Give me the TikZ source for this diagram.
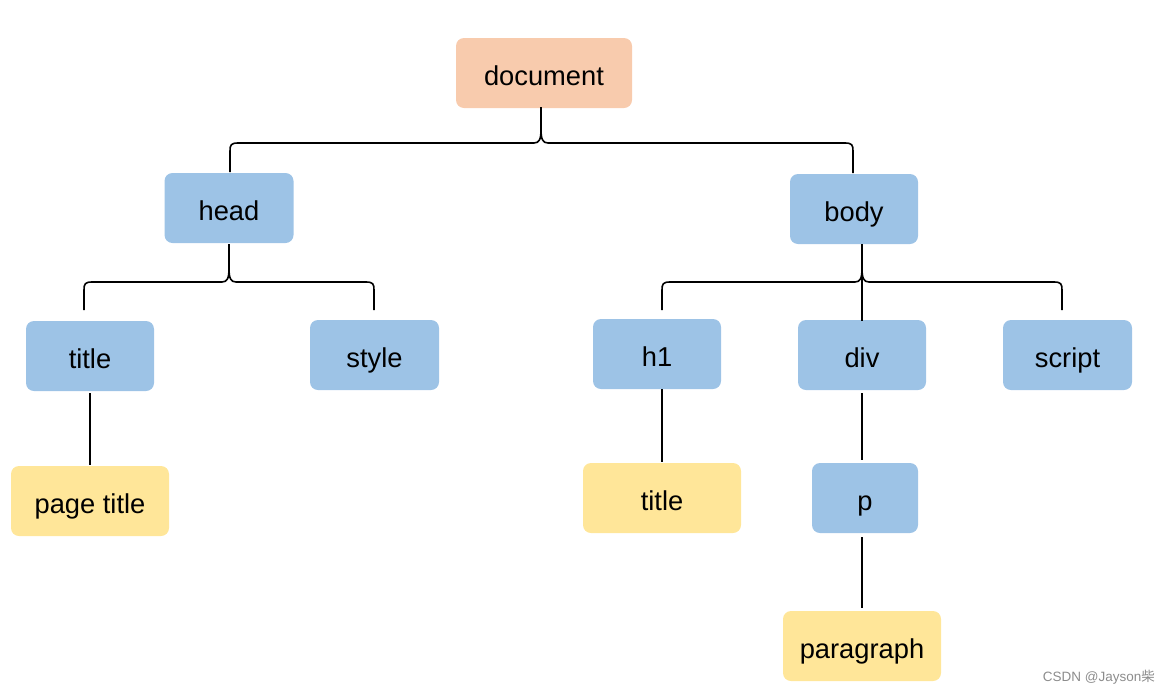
\documentclass[tikz,border=0pt]{standalone}
\usepackage{fontspec}
\setmainfont{Liberation Sans}
\newfontfamily\cjkfont{Noto Sans CJK SC}
\usetikzlibrary{calc}
\definecolor{docorange}{HTML}{F8CBAD}
\definecolor{nodeblue}{HTML}{9DC3E6}
\definecolor{leafyellow}{HTML}{FFE699}
\definecolor{wmgray}{HTML}{8C8C8C}
\tikzset{
  box/.style={rounded corners=8pt, minimum height=70pt, inner sep=0pt, text height=24pt, text depth=0pt,
    font=\fontsize{27.3}{30}\selectfont, text=black},
  bluebox/.style={box, fill=nodeblue},
  yellowbox/.style={box, fill=leafyellow},
  orangebox/.style={box, fill=docorange},
  conn/.style={draw=black, line width=1.6pt},
}
% #1 top point, #2 left end (bottom), #3 right end (bottom), #4 bar point below top
\newcommand\bracepath[4]{%
  \coordinate (bl) at (#2 |- #4);
  \coordinate (br) at (#3 |- #4);
  \draw[conn] (#2) -- ($(bl)+(0,8)$) .. controls ($(bl)+(0,2)$) and ($(bl)+(1,0)$) .. ($(bl)+(8,0)$)
     -- ($(#4)+(-7,0)$) .. controls ($(#4)+(-1.5,0)$) and ($(#4)+(0,-4)$) .. ($(#4)+(0,-14)$) -- (#1);
  \draw[conn] ($(#4)+(0,-14)$) .. controls ($(#4)+(0,-4)$) and ($(#4)+(1.5,0)$) .. ($(#4)+(7,0)$)
     -- ($(br)+(-8,0)$) .. controls ($(br)+(-1,0)$) and ($(br)+(0,2)$) .. ($(br)+(0,8)$) -- (#3);
}
\begin{document}
\begin{tikzpicture}[x=1pt,y=-1pt]
\useasboundingbox (0,0) rectangle (1169,694);
% nodes
\node[orangebox, minimum width=176pt] (document) at (544,73) {document};
\node[bluebox, minimum width=129pt] (head) at (229,208) {head};
\node[bluebox, minimum width=128pt] (body) at (854,209) {body};
\node[bluebox, minimum width=128pt] (title) at (90,356) {title};
\node[bluebox, minimum width=129pt] (style) at (374.5,355) {style};
\node[bluebox, minimum width=128pt] (h1) at (657,354) {h1};
\node[bluebox, minimum width=128pt] (div) at (862,355) {div};
\node[bluebox, minimum width=129pt] (script) at (1067.5,355) {script};
\node[yellowbox, minimum width=158pt] (pagetitle) at (90,501) {page title};
\node[yellowbox, minimum width=158pt] (h1title) at (662,498) {title};
\node[bluebox, minimum width=106pt] (p) at (865,498) {p};
\node[yellowbox, minimum width=158pt] (paragraph) at (862,646) {paragraph};
% brace anchor points
\coordinate (doctop) at (541,107);
\coordinate (docbar) at (541,143);
\coordinate (headtop) at (229,244);
\coordinate (headbar) at (229,282);
\coordinate (bodytop) at (862,244);
\coordinate (bodybar) at (862,282);
\coordinate (h1end) at (662,310);
\coordinate (scriptend) at (1062,310);
\coordinate (titleend) at (84,310);
\coordinate (styleend) at (374,310);
\coordinate (headend) at (230,172);
\coordinate (bodyend) at (853,173);
% braces
\bracepath{doctop}{headend}{bodyend}{docbar}
\bracepath{headtop}{titleend}{styleend}{headbar}
\bracepath{bodytop}{h1end}{scriptend}{bodybar}
\draw[conn] (bodytop) -- ([yshift=-1pt]div.north);
% straight connectors
\draw[conn] ([yshift=-2pt]title.south) -- ([yshift=1pt]pagetitle.north);
\draw[conn] (h1title.north |- h1.south) -- ([yshift=1pt]h1title.north);
\draw[conn] ([yshift=-3pt]div.south) -- ([yshift=3pt]p.north -| div.south);
\draw[conn] ([yshift=-4pt]paragraph.north |- p.south) -- ([yshift=3pt]paragraph.north);
% watermark
\node[anchor=east, text=wmgray, font=\fontsize{13.5}{15}\selectfont, inner sep=0pt] (wm) at (1155,677) {CSDN @Jayson{\cjkfont 柴}};
\end{tikzpicture}
\end{document}
